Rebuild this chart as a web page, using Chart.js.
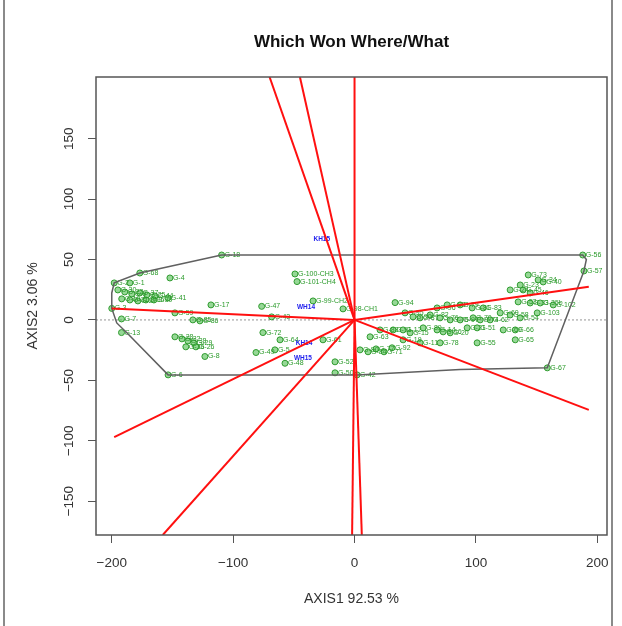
<!DOCTYPE html>
<html>
<head>
<meta charset="utf-8">
<script src="https://cdn.jsdelivr.net/npm/chart.js@4.4.1/dist/chart.umd.min.js"></script>
<style>
  body { margin: 0; background: #fff; }
  #wrap { position: relative; width: 622px; height: 626px; }
  #edgeL, #edgeR { position: absolute; top: 0; width: 2px; height: 626px; background: #8a8a8a; }
  #edgeL { left: 3px; }
  #edgeR { left: 611px; }
</style>
</head>
<body>
<div id="wrap">
  <canvas id="biplot" width="622" height="626"></canvas>
  <div id="edgeL"></div>
  <div id="edgeR"></div>
</div>
<script>
// #### DATA ####
let xTicks = [-200, -100, 0, 100, 200];
let yTicks = [-150, -100, -50, 0, 50, 100, 150];

// genotypes (green)
let genoLabels = ['G-18', 'G-68', 'G-4', 'G-2', 'G-1', 'G-30', 'G-22', 'G-9', 'G-37', 'G-25',
    'G-44', 'G-10', 'G-31', 'G-27', 'G-35', 'G-39', 'G-41', 'G-3', 'G-7', 'G-13',
    'G-17', 'G-47', 'G-43', 'G-59', 'G-85', 'G-86', 'G-28', 'G-32', 'G-38', 'G-29',
    'G-36', 'G-26', 'G-8', 'G-6', 'G-72', 'G-64', 'G-49', 'G-5', 'G-48', 'G-100-CH3',
    'G-101-CH4', 'G-99-CH2', 'G-98-CH1', 'G-94', 'G-61', 'G-52', 'G-50', 'G-42', 'G-80', 'G-84',
    'G-77', 'G-71', 'G-92', 'G-63', 'G-88', 'G-91', 'G-19', 'G-11', 'G-87', 'G-89',
    'G-95', 'G-90', 'G-82', 'G-96', 'G-93', 'G-79', 'G-81', 'G-83', 'G-70', 'G-74',
    'G-62', 'G-60', 'G-58', 'G-54', 'G-76', 'G-75', 'G-97', 'G-12', 'G-15', 'G-14',
    'G-16', 'G-20', 'G-21', 'G-51', 'G-69', 'G-66', 'G-78', 'G-55', 'G-65', 'G-67',
    'G-56', 'G-57', 'G-73', 'G-34', 'G-40', 'G-23', 'G-24', 'G-45', 'G-46', 'G-53',
    'G-33', 'G-35b', 'G-102', 'G-103'];
let genoX = [-109.5, -176.9, -152.1, -198, -185.1, -195.0, -189.3, -183.5, -176.9, -171.1,
    -164.5, -191.8, -185.1, -178.5, -171.9, -165.3, -153.8, -200, -192.0, -192.0,
    -118.3, -76.5, -68.3, -148.0, -133.2, -127.4, -148.0, -142.2, -137.3, -132.4,
    -139.0, -130.7, -123.3, -153.6, -75.5, -61.4, -81.2, -65.6, -57.3, -49.1,
    -47.4, -34.2, -9.5, 33.4, -26.0, -16.1, -16.1, 2.1, 4.5, 11.1,
    17.7, 24.3, 30.9, 12.8, 21.0, 31.8, 40.0, 54.0, 54.0, 56.5,
    41.6, 48.2, 62.3, 68.0, 76.3, 87.0, 96.9, 106.0, 97.7, 103.5,
    111.7, 120.0, 128.2, 136.5, 70.5, 78.8, 87.0, 40.0, 45.8, 68.0,
    73.0, 78.8, 92.8, 101.0, 122.5, 132.4, 70.5, 101.0, 132.4, 158.8,
    188.0, 189.0, 143.1, 151.3, 155.4, 136.5, 128.2, 138.9, 144.7, 134.8,
    144.7, 153.0, 163.7, 150.5];
let genoY = [53.7, 38.8, 34.7, 30.6, 30.6, 24.8, 23.1, 21.5, 22.3, 20.7,
    19.8, 17.4, 16.5, 15.7, 16.5, 16.5, 18.2, 9.5, 0.8, -10.5,
    12.4, 11.2, 2.5, 5.8, 0, -0.8, -14.0, -15.7, -17.4, -19.0,
    -22.3, -22.3, -30.3, -45.5, -10.5, -16.5, -27.0, -24.8, -35.9, 38.0,
    31.7, 15.7, 9.1, 14.3, -16.5, -34.7, -43.8, -45.5, -24.8, -26.4,
    -24.0, -26.4, -23.1, -14.0, -8.3, -8.3, -16.5, -19.0, 1.7, -6.6,
    5.8, 2.5, 4.1, 9.9, 12.4, 12.4, 9.9, 9.9, 1.7, 0,
    0, 5.8, 4.1, 1.7, 1.7, 0, 0, -8.3, -10.7, -8.3,
    -9.9, -10.7, -6.6, -6.6, -8.3, -8.3, -19.0, -19.0, -16.5, -39.7,
    53.7, 40.5, 37.2, 33.1, 31.4, 28.9, 24.8, 24.8, 22.3, 14.9,
    14.0, 14.0, 12.4, 5.8];

// environments (blue)
let envLabels = ['KH15', 'WH14', 'KH14', 'WH15'];
let envX = [-27.0, -40.0, -41.6, -42.5];
let envY = [66.9, 10.7, -19.0, -31.4];

// convex hull
let hullX = [-109.5, 188, 191, 189, 158.8, 87, 2.1, -153.6, -187.6, -195.9, -200, -200, -198, -176.9, -109.5];
let hullY = [53.7, 53.7, 50, 40.5, -39.7, -41, -45.5, -45.5, -10.7, -2.5, 9.5, 22.3, 30.6, 38.8, 53.7];

// rays from origin (end points)
let rayX = [-70, -45, 0, 193, 193, 6, -2, -158, -198, -200];
let rayY = [201, 201, 201, 27.5, -74.5, -178, -178, -178, -97, 9.5];

let xRange = [-213, 208];
let yRange = [-178, 201];

// #### PLUGINS ####
let pointText = {
    id: 'pointText',
    afterDatasetDraw(chart, args) {
        let ds = chart.data.datasets[args.index];
        if (!ds.texts) return;
        let ctx = chart.ctx;
        ctx.save();
        ctx.font = ds.textFont;
        ctx.fillStyle = ds.textColor;
        ctx.textAlign = ds.textAlign;
        ctx.textBaseline = 'middle';
        args.meta.data.forEach((el, i) => {
            ctx.fillText(ds.texts[i], el.x + ds.textDx, el.y);
        });
        ctx.restore();
    }
};

let plotFrame = {
    id: 'plotFrame',
    afterDraw(chart) {
        let a = chart.chartArea;
        let ctx = chart.ctx;
        ctx.save();
        ctx.strokeStyle = '#555';
        ctx.lineWidth = 1.5;
        ctx.strokeRect(a.left, a.top, a.right - a.left, a.bottom - a.top);
        ctx.restore();
    }
};

// #### DATASETS ####
let toXY = (xs, ys) => xs.map((x, i) => ({x: x, y: ys[i]}));

let rayDatasets = rayX.map((x, i) => ({
    type: 'line',
    data: [{x: 0, y: 0}, {x: x, y: rayY[i]}],
    borderColor: '#ff1010',
    borderWidth: 2,
    pointRadius: 0,
    order: 0
}));

let datasets = [
    {
        type: 'line',
        data: [{x: xRange[0], y: 0}, {x: xRange[1], y: 0}],
        borderColor: '#b8b8b8',
        borderWidth: 1.5,
        borderDash: [2, 2],
        pointRadius: 0,
        order: 5
    },
    {
        type: 'scatter',
        data: toXY(genoX, genoY),
        pointRadius: 3,
        backgroundColor: 'rgba(80,190,80,0.6)',
        borderColor: '#2e9a2e',
        borderWidth: 1,
        texts: genoLabels,
        textFont: '7px "Liberation Sans"',
        textColor: '#2a9a2a',
        textAlign: 'left',
        textDx: 3,
        order: 3
    },
    {
        type: 'scatter',
        data: toXY(envX, envY),
        pointRadius: 0,
        texts: envLabels,
        textFont: 'bold 6.5px "Liberation Sans"',
        textColor: '#2020ee',
        textAlign: 'center',
        textDx: 0,
        order: 2
    },
    {
        type: 'line',
        data: toXY(hullX, hullY),
        borderColor: '#606060',
        borderWidth: 1.5,
        pointRadius: 0,
        tension: 0,
        order: 1
    },
    ...rayDatasets
];

let minusFmt = (v) => String(v).replace('-', '\u2212');

let myBiplot = new Chart(document.getElementById('biplot').getContext('2d'), {
    type: 'scatter',
    data: {datasets: datasets},
    plugins: [pointText, plotFrame],
    options: {
        responsive: false,
        animation: false,
        devicePixelRatio: 1,
        layout: {padding: {left: 0, right: 15, top: 0, bottom: 0}},
        plugins: {
            legend: {display: false},
            tooltip: {enabled: false},
            title: {
                display: true,
                text: 'Which Won Where/What',
                fullSize: false,
                color: '#111',
                font: {family: '"Liberation Sans"', size: 17, weight: 'bold'},
                padding: {top: 32, bottom: 24.6}
            }
        },
        scales: {
            x: {
                type: 'linear',
                position: 'bottom',
                min: xRange[0],
                max: xRange[1],
                afterBuildTicks: (s) => { s.ticks = xTicks.map(v => ({value: v})); },
                afterFit: (s) => { s.height = 91; },
                ticks: {
                    color: '#333',
                    font: {family: '"Liberation Sans"', size: 13.5},
                    padding: 12,
                    maxRotation: 0,
                    callback: minusFmt
                },
                grid: {drawOnChartArea: false, tickLength: 8, color: '#555', tickColor: '#555'},
                border: {display: false},
                title: {
                    display: true,
                    text: 'AXIS1 92.53 %',
                    color: '#333',
                    font: {family: '"Liberation Sans"', size: 14},
                    padding: {top: 0, bottom: 18}
                }
            },
            y: {
                type: 'linear',
                position: 'left',
                min: yRange[0],
                max: yRange[1],
                afterBuildTicks: (s) => { s.ticks = yTicks.map(v => ({value: v})); },
                afterFit: (s) => { s.width = 96; },
                ticks: {
                    color: '#333',
                    font: {family: '"Liberation Sans"', size: 13.5},
                    padding: 4,
                    minRotation: 90,
                    maxRotation: 90,
                    crossAlign: 'center',
                    callback: minusFmt
                },
                grid: {drawOnChartArea: false, tickLength: 8, color: '#555', tickColor: '#555'},
                border: {display: false},
                title: {
                    display: true,
                    text: 'AXIS2 3.06 %',
                    color: '#333',
                    font: {family: '"Liberation Sans"', size: 14},
                    padding: {top: 25, bottom: 0}
                }
            }
        }
    }
});
</script>
</body>
</html>
